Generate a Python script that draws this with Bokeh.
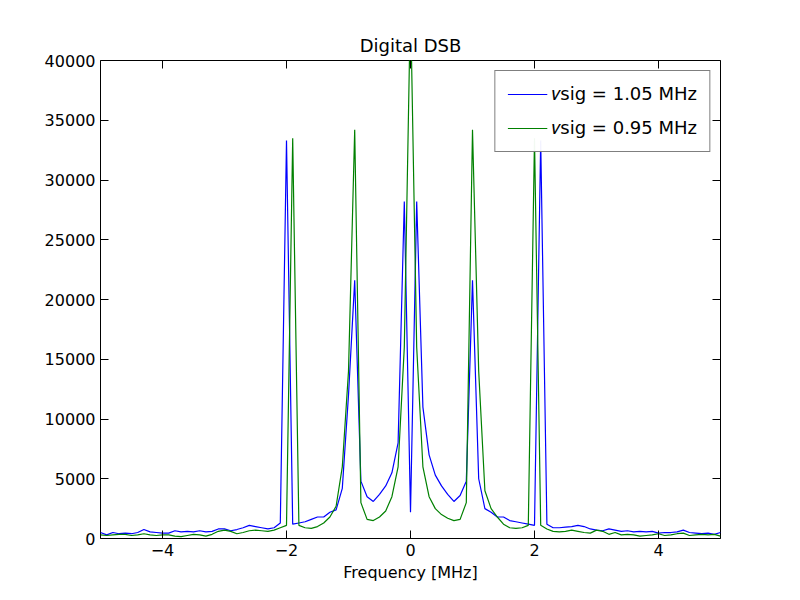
from bokeh.plotting import figure
from bokeh.models import LinearAxis, Range1d, Legend, LegendItem, FixedTicker
from bokeh.embed import file_html
from bokeh.resources import INLINE

freq = [round(-5 + 0.1 * i, 1) for i in range(101)]

blue = [500, 300, 500, 400, 450, 400, 500, 750, 550, 500,
        450, 450, 650, 550, 600, 550, 650, 550, 600, 800,
        800, 650, 750, 900, 1100, 1000, 900, 800, 900, 1300,
        33300,
        1200, 1300, 1400, 1600, 1800, 1800, 2200, 2400, 4200, 12000,
        21600,
        4800, 3500, 3100, 3700, 4400, 5500, 8000, 28200, 2200, 28200,
        11000, 7000, 5300, 4400, 3700, 3100, 3600, 4800,
        21600,
        5000, 2500, 2200, 1800, 1800, 1500, 1400, 1300, 1200, 1100,
        33300,
        1200, 900, 900, 950, 1000, 1100, 1000, 800, 700,
        650, 800, 700, 600, 650, 550, 600, 550, 600, 450,
        500, 500, 550, 700, 500, 450, 400, 450, 350, 500]

green = [300, 250, 300, 350, 350, 250, 300, 400, 300, 250,
         300, 300, 200, 150, 250, 350, 300, 200, 350, 600,
         700, 600, 400, 500, 650, 700, 650, 600, 700, 900,
         1100,
         33500,
         1100, 900, 850, 1000, 1300, 1800, 2700, 6000, 14000,
         34200,
         3000, 1600, 1500, 1800, 2300, 3500, 6000, 16000,
         45000,
         16000, 6000, 3500, 2500, 2000, 1700, 1500, 1600, 3000,
         34200,
         14000, 4000, 2500, 1800, 1200, 900, 850, 900, 1100,
         33500,
         1100, 800, 600, 550, 600, 700, 600, 500, 450, 700,
         600, 350, 500, 300, 350, 300, 200, 250, 300, 400,
         250, 300, 400, 450, 250, 300, 350, 300, 350, 200]

p = figure(width=784, height=584, output_backend="svg", toolbar_location=None,
           x_range=Range1d(-5, 5), y_range=Range1d(0, 40000),
           title="Digital DSB", min_border_left=100, min_border_right=64,
           min_border_top=60, min_border_bottom=44)
p.title.align = "center"
p.title.text_font = "DejaVu Sans"
p.title.text_font_size = "18px"
p.title.text_font_style = "normal"
p.title.text_color = "black"
p.grid.visible = False
p.outline_line_color = "black"
p.outline_line_width = 1

r1 = p.line(freq, blue, line_color="blue", line_width=1.2)
r2 = p.line(freq, green, line_color="green", line_width=1.2)

p.add_layout(LinearAxis(major_label_text_color=None), "right")
p.add_layout(LinearAxis(major_label_text_color=None), "above")
for ax in p.xaxis:
    ax.ticker = FixedTicker(ticks=[-4, -2, 0, 2, 4])
for ax in p.yaxis:
    ax.ticker = FixedTicker(ticks=list(range(0, 40001, 5000)))
for ax in p.xaxis + p.yaxis:
    ax.major_tick_in = 8
    ax.major_tick_out = 0
    ax.minor_tick_in = 0
    ax.minor_tick_out = 0
    ax.axis_line_color = None
    ax.major_label_text_font = "DejaVu Sans"
    ax.major_label_text_font_size = "16px"
p.left[0].major_label_text_color = "black"
p.below[0].major_label_text_color = "black"
p.below[0].major_label_overrides = {-4: "\u22124", -2: "\u22122"}
p.below[0].axis_label = "Frequency [MHz]"
p.below[0].axis_label_text_font = "DejaVu Sans"
p.below[0].axis_label_text_font_size = "16px"
p.below[0].axis_label_text_font_style = "normal"
p.below[0].axis_label_text_color = "black"
p.below[0].axis_label_standoff = 4

legend = Legend(items=[LegendItem(label="\U0001d463sig = 1.05 MHz", renderers=[r1]),
                       LegendItem(label="\U0001d463sig = 0.95 MHz", renderers=[r2])],
                location="top_right", label_text_font="DejaVu Sans",
                label_text_font_size="18px", label_text_color="black",
                border_line_color="black",
                glyph_width=40, spacing=12, padding=12, margin=10)
p.add_layout(legend)

open("out.html", "w").write(file_html(p, INLINE))
